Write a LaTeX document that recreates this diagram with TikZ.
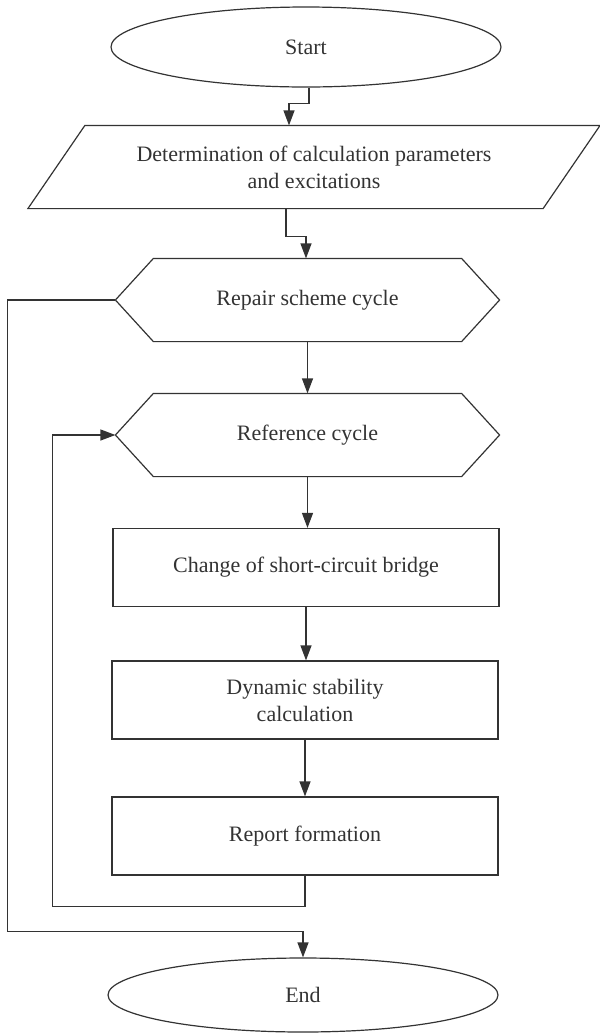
\documentclass[tikz,border=0pt]{standalone}
\usepackage{fontspec}
\setmainfont{Liberation Serif}
\usetikzlibrary{calc, shapes.geometric, arrows.meta}

\begin{document}
\begin{tikzpicture}[
        x=0.5pt, y=-0.5pt,
        black!80, line width=0.6pt,
        every node/.style={font=\fontsize{11}{13.5}\selectfont},
        term/.style={ellipse, draw, minimum width=195pt, minimum height=40pt, inner sep=0pt},
        io/.style={minimum width=257pt, minimum height=41pt, inner sep=0pt, align=center},
        cyc/.style={minimum width=191.5pt, minimum height=41pt, inner sep=0pt},
        proc/.style={rectangle, draw, minimum width=193pt, minimum height=39pt, inner sep=0pt, align=center},
        arr/.style={-{Triangle[length=7.5pt, width=5.5pt]}}
    ]

        \useasboundingbox (0,0) rectangle (600,1035);

        % Place the blocks of the flowchart
        \node[term] (start) at (306,47) {Start};
        \node[io] (inp) at (314,167) {Determination of calculation parameters\\and excitations};
        \node[cyc] (rep) at (307.5,300) {Repair scheme cycle};
        \node[cyc] (refc) at (307.5,435) {Reference cycle};
        \node[proc] (chg) at (306,567.5) {Change of short-circuit bridge};
        \node[proc] (dyn) at (305,700) {Dynamic stability\\calculation};
        \node[proc] (rpt) at (305,836) {Report formation};
        \node[term, minimum height=37pt] (end) at (303,995) {End};

        % Draw the input parallelogram
        \draw ($(inp.south west)+(-28.5,0)$) -- ($(inp.north west)+(28.5,0)$)
            -- ($(inp.north east)+(28.5,0)$) -- ($(inp.south east)+(-28.5,0)$) -- cycle;

        % Draw the cycle hexagons
        \foreach \c in {rep, refc}
            \draw (\c.west) -- ($(\c.north west)+(38,0)$) -- ($(\c.north east)+(-38,0)$)
                -- (\c.east) -- ($(\c.south east)+(-38,0)$) -- ($(\c.south west)+(38,0)$) -- cycle;

        % Draw the connectors
        \draw[arr] ($(start.south)+(3,0)$) -- ++(0,16) -| ($(inp.north)+(-25,0)$);
        \draw[arr] ($(inp.south)+(-28,0)$) -- ++(0,28) -| ($(rep.north)+(-1.5,0)$);
        \draw[arr] (rep.south) -- (refc.north);
        \draw[arr] (refc.south) -- (refc.south |- chg.north);
        \draw[arr] (chg.south) -- (chg.south |- dyn.north);
        \draw[arr] (dyn.south) -- (rpt.north);

        % Draw the loops back and out
        \draw[arr] (rpt.south) -- ++(0,31) -| ($(refc.west)+(-63,0)$) -- (refc.west);
        \draw[arr] (rep.west) -- ++(-108,0) |- ($(end.north)+(0,-26)$) -- (end.north);

    \end{tikzpicture}
\end{document}
